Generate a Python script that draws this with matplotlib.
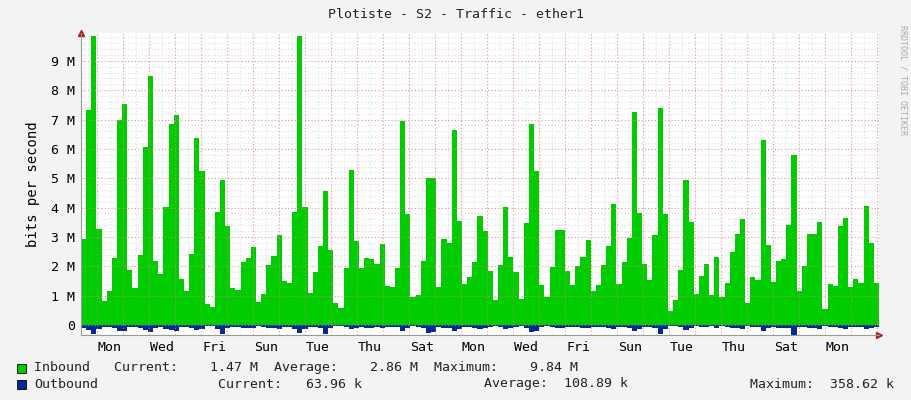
import matplotlib
matplotlib.use('Agg')
import matplotlib.pyplot as plt
import numpy as np

# Inbound traffic per 4h-ish step, in Mbit/s
inbound = [
    2.93, 7.34, 9.84, 3.28, 0.83, 1.17, 2.29, 7.0, 7.54, 1.88, 1.27, 2.39, 6.07, 8.5,
    2.18, 1.75, 4.03, 6.86, 7.17, 1.58, 1.17, 2.42, 6.38, 5.26, 0.72, 0.62, 3.86, 4.95,
    3.38, 1.27, 1.2, 2.15, 2.29, 2.66, 0.8, 1.06, 2.05, 2.36, 3.07, 1.5, 1.43, 3.86,
    9.86, 4.03, 1.09, 1.81, 2.7, 4.57, 2.54, 0.75, 0.59, 1.94, 5.29,
    2.87, 1.94, 2.29, 2.25, 2.08, 2.76, 1.33, 1.3, 1.94, 6.96, 3.79, 0.97, 1.03, 2.18,
    5.02, 5.02, 1.3, 2.93, 2.8, 6.66, 3.55, 1.4, 1.64, 2.15, 3.72, 3.21, 1.84, 0.86,
    2.05, 4.03, 2.32, 1.81, 0.9, 3.48, 6.86, 5.26, 1.37, 0.97, 1.98, 3.24, 3.24, 1.84,
    1.37, 2.01, 2.32, 2.9, 1.16, 1.37, 2.05, 2.7, 4.13,
    1.4, 2.15, 2.97, 7.27, 3.82, 2.08, 1.54, 3.07, 7.4, 3.79, 0.48, 0.85, 1.88, 4.95,
    3.52, 1.06, 1.67, 2.08, 1.03, 2.32, 0.97, 1.43, 2.49, 3.1, 3.62, 0.75, 1.64, 1.54,
    6.31, 2.73, 1.47, 2.18, 2.25, 3.41, 5.8, 1.16, 2.01, 3.1, 3.1, 3.52, 0.55, 1.4,
    1.33, 3.38, 3.65, 1.3, 1.57, 1.43, 4.06, 2.8, 1.43,
]

# Outbound traffic, in kbit/s, drawn below the axis
outbound = [
    90, 180, 310, 120, 60, 70, 100, 190, 200, 80, 60, 90, 170, 230,
    90, 70, 120, 180, 190, 70, 60, 90, 170, 150, 50, 50, 120, 290,
    110, 60, 60, 90, 100, 110, 50, 60, 90, 100, 120, 70, 70, 120,
    280, 120, 60, 80, 100, 300, 90, 50, 50, 80, 150,
    110, 80, 90, 90, 80, 110, 60, 60, 80, 200, 110, 50, 60, 90,
    260, 240, 60, 110, 100, 190, 120, 60, 70, 90, 120, 110, 80, 50,
    80, 130, 90, 70, 50, 110, 250, 200, 60, 50, 80, 110, 110, 80,
    60, 80, 90, 110, 60, 60, 80, 100, 130,
    60, 80, 110, 200, 120, 80, 70, 110, 290, 120, 40, 50, 80, 160,
    110, 50, 70, 80, 50, 90, 50, 60, 90, 110, 120, 40, 70, 70,
    190, 100, 60, 90, 90, 110, 358, 60, 80, 110, 110, 130, 40, 60,
    60, 110, 120, 60, 70, 60, 130, 100, 64,
]

day_names = ['Mon', 'Tue', 'Wed', 'Thu', 'Fri', 'Sat', 'Sun']

n = len(inbound)
span_days = 798 / 26.0
first_midnight = 16 / 26.0
edges = np.linspace(0, span_days, n + 1)
inb = np.array(inbound + [inbound[-1]]) * 1e6
outb = -np.array(outbound + [outbound[-1]]) * 1e3

fig = plt.figure(figsize=(9.11, 4.0), dpi=100, facecolor='#f3f3f3')
ax = fig.add_axes([81 / 911, 1 - 335 / 400, 798 / 911, 302 / 400])
ax.set_facecolor('white')

ax.fill_between(edges, 0, inb, step='post', color='#00cc00', linewidth=0)
ax.fill_between(edges, 0, outb, step='post', color='#002a97', linewidth=0)

ax.set_xlim(0, span_days)
ax.set_ylim(-0.34e6, 9.95e6)

# grids
midnights = np.arange(first_midnight, span_days, 1.0)
halfdays = np.arange(first_midnight - 0.5, span_days, 0.5)
for x in halfdays:
    ax.axvline(x, color='#dddddd', lw=0.8, ls=(0, (1, 2)), zorder=0.5)
for x in midnights:
    ax.axvline(x, color='#f08080', lw=0.8, ls=(0, (1, 2)), zorder=3, alpha=0.7)
for y in np.arange(0, 9.95e6, 0.2e6):
    ax.axhline(y, color='#dddddd', lw=0.8, ls=(0, (1, 2)), zorder=0.5)
for y in np.arange(0, 9.95e6, 1e6):
    ax.axhline(y, color='#f08080', lw=0.8, ls=(0, (1, 2)), zorder=3, alpha=0.7)

yt = np.arange(0, 10) * 1e6
ax.set_yticks(yt)
ax.set_yticklabels(['0'] + ['%d M' % v for v in range(1, 10)],
                   family='DejaVu Sans Mono', fontsize=9.5)
# label every other day, Mondays first
label_pos = midnights[::2][:-1] + 0.5
ax.set_xticks(label_pos)
ax.set_xticklabels([day_names[(2 * i) % 7] for i in range(len(label_pos))],
                   family='DejaVu Sans Mono', fontsize=9.5)
ax.tick_params(length=0, pad=4)
for s in ['top', 'right']:
    ax.spines[s].set_visible(False)
ax.spines['left'].set_color('#999999')
ax.spines['bottom'].set_color('#999999')
ax.plot([1.0], [0], marker='>', color='#aa2222', ms=5, transform=ax.transAxes, clip_on=False)
ax.plot([0], [1.0], marker='^', color='#aa2222', ms=5, transform=ax.transAxes, clip_on=False)

ax.set_ylabel('bits per second', family='DejaVu Sans Mono', fontsize=10, labelpad=8)

mono = dict(family='DejaVu Sans Mono', fontsize=9.5, color='#222222')
fig.text(0.5, 1 - 14 / 400, 'Plotiste - S2 - Traffic - ether1', ha='center', va='center', **mono)
fig.text(903 / 911, 0.8, 'RRDTOOL / TOBI OETIKER', rotation=270, ha='center', va='center',
         family='DejaVu Sans Mono', fontsize=6, color='#aaaaaa')

fig.patches.append(plt.Rectangle((17 / 911, 1 - 373 / 400), 9 / 911, 9 / 400,
                                 transform=fig.transFigure, fc='#00cc00', ec='black', lw=0.6))
fig.patches.append(plt.Rectangle((17 / 911, 1 - 389 / 400), 9 / 911, 9 / 400,
                                 transform=fig.transFigure, fc='#002a97', ec='black', lw=0.6))
fig.text(34 / 911, 1 - 368 / 400,
         'Inbound   Current:    1.47 M  Average:    2.86 M  Maximum:    9.84 M',
         va='center', **mono)
fig.text(34 / 911, 1 - 384 / 400, 'Outbound', va='center', **mono)
fig.text(218 / 911, 1 - 384 / 400, 'Current:   63.96 k', va='center', **mono)
fig.text(484 / 911, 1 - 384 / 400, 'Average:  108.89 k', va='center', **mono)
fig.text(750 / 911, 1 - 384 / 400, 'Maximum:  358.62 k', va='center', **mono)

fig.savefig('out.png', dpi=100, facecolor=fig.get_facecolor())
